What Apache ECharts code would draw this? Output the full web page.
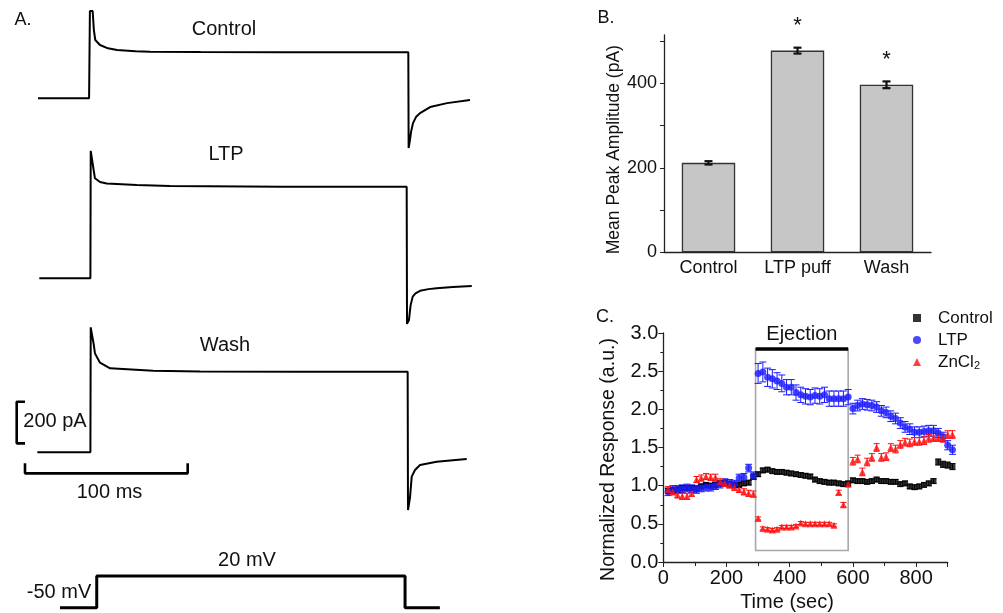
<!DOCTYPE html>
<html><head><meta charset="utf-8">
<script src="https://cdn.jsdelivr.net/npm/echarts@6/dist/echarts.min.js"></script>
<style>html,body{margin:0;padding:0;background:#fff}#c{width:1003px;height:613px}</style>
</head><body><div id="c"></div>
<script>
// ---------- Panel A: current traces (ms, pA relative to baseline) ----------
const traceControl = [[0,0],[31.4,0],[31.9,419],[33.6,419],[34.3,330],[35.2,280],[38.1,256],[43,240],[48.6,232],[60,226],[68.8,224],[100,222],[150,221],[200,221],[227.6,221],[227.8,-239],[228.6,-200],[229.3,-160],[230.5,-119],[232.3,-90],[234.8,-71],[241,-42],[251.4,-23],[265.5,-8]];
const traceLTP = [[0.8,0],[32.2,0],[32.4,612],[33.4,612],[34.2,520],[35,480],[38.1,462],[42.2,455],[60.7,448],[81,443],[150,440],[226.6,440],[226.8,-219],[228,-200],[229,-130],[230.3,-88],[232,-72],[234.8,-60],[240,-52],[245,-48],[255,-42],[266.6,-37]];
const traceWash = [[-0.4,0],[32.2,0],[32.4,600],[33.4,600],[34.2,520],[35,475],[38.1,430],[44.3,403],[70.7,392],[99.6,388],[160,387],[227.2,387],[227.4,-277],[228.6,-220],[229.7,-117],[231.7,-85],[234.8,-61],[245,-45],[255,-38],[263.5,-32]];
const voltageStep = [[13.5,-50],[36.1,-50],[36.1,20],[225.6,20],[225.6,-50],[247,-50]];
const scaleBarPA = [[-8,243],[-13.1,243],[-13.1,43],[-8,43]];      // 200 pA
const scaleBarMS = [[-8,-53],[-8,-101],[92,-101],[92,-53]];         // 100 ms

// ---------- Panel B: mean peak amplitude ----------
const barCats = ['Control','LTP puff','Wash'];
const barVals = [212, 478, 397];
const barErr = [4, 7, 8];
const barSig = ['', '*', '*'];
const barTickValues = [0, 100, 200, 300, 400, 500];
const barLabelValues = [0, 200, 400];

// ---------- Panel C: normalized response ----------
const times = [15,30,45,60,75,90,105,120,135,150,165,180,195,210,225,240,255,270,285,300,315,330,345,360,375,390,405,420,435,450,465,480,495,510,525,540,555,570,585,600,615,630,645,660,675,690,705,720,735,750,765,780,795,810,825,840,855,870,885,900,915];
const controlVals = [0.93,0.94,0.95,0.97,0.97,0.97,0.96,0.99,1.01,1.00,1.01,1.03,1.04,1.02,1.01,1.01,1.03,1.04,1.12,
  1.15,1.20,1.21,1.19,1.18,1.18,1.17,1.16,1.15,1.14,1.13,1.12,1.08,1.06,1.05,1.04,1.04,1.03,1.02,1.03,
  1.07,1.06,1.06,1.05,1.06,1.08,1.06,1.06,1.05,1.05,1.02,1.03,0.99,0.98,0.99,1.01,1.03,1.06,1.31,1.28,1.27,1.25];
const controlErr = [0.03,0.03,0.03,0.03,0.03,0.03,0.03,0.03,0.03,0.03,0.03,0.03,0.03,0.03,0.03,0.03,0.03,0.03,0.03,
  0.03,0.03,0.03,0.03,0.03,0.03,0.03,0.03,0.03,0.03,0.03,0.03,0.03,0.03,0.03,0.03,0.03,0.03,0.03,0.03,
  0.03,0.03,0.03,0.03,0.03,0.03,0.03,0.03,0.03,0.03,0.03,0.03,0.03,0.03,0.03,0.03,0.03,0.03,0.04,0.04,0.04,0.04];
const ltpVals = [0.92,0.95,0.95,0.96,0.97,0.96,0.95,0.97,0.98,0.98,1.00,1.02,1.04,1.03,1.02,1.10,1.11,1.23,1.13,
  2.47,2.49,2.42,2.40,2.37,2.34,2.29,2.29,2.22,2.19,2.17,2.16,2.18,2.17,2.19,2.14,2.14,2.14,2.14,2.16,
  2.01,2.05,2.07,2.06,2.05,2.03,1.98,1.96,1.91,1.88,1.82,1.77,1.74,1.70,1.70,1.71,1.72,1.72,1.69,1.64,1.53,1.47];
const ltpErr = [0.05,0.05,0.05,0.05,0.05,0.05,0.05,0.05,0.05,0.05,0.05,0.05,0.05,0.05,0.05,0.05,0.05,0.05,0.05,
  0.13,0.13,0.12,0.12,0.11,0.11,0.10,0.10,0.10,0.10,0.10,0.10,0.10,0.10,0.10,0.10,0.10,0.10,0.10,0.10,
  0.07,0.07,0.07,0.07,0.07,0.07,0.07,0.07,0.07,0.07,0.07,0.07,0.07,0.07,0.07,0.07,0.07,0.07,0.06,0.06,0.06,0.06];
const znVals = [0.95,0.92,0.88,0.86,0.86,0.90,1.08,1.10,1.12,1.11,1.11,1.05,1.03,1.01,0.98,0.95,0.92,0.90,0.89,
  0.57,0.44,0.43,0.42,0.43,0.46,0.46,0.46,0.47,0.51,0.50,0.50,0.50,0.50,0.50,0.50,0.48,0.91,0.75,1.02,
  1.32,1.35,1.18,1.31,1.37,1.50,1.37,1.38,1.50,1.48,1.54,1.57,1.56,1.58,1.58,1.59,1.62,1.63,1.63,1.62,1.67,1.67];
const znErr = [0.04,0.04,0.04,0.04,0.04,0.04,0.04,0.04,0.04,0.04,0.04,0.04,0.04,0.04,0.04,0.04,0.04,0.04,0.04,
  0.02,0.02,0.02,0.02,0.02,0.02,0.02,0.02,0.02,0.02,0.02,0.02,0.02,0.02,0.02,0.02,0.02,0.03,0.03,0.03,
  0.05,0.05,0.05,0.05,0.05,0.05,0.05,0.05,0.05,0.05,0.05,0.05,0.05,0.05,0.05,0.05,0.05,0.05,0.05,0.05,0.05,0.05];
const ejection = {start: 292, end: 585, low: 0.15, high: 2.79};

const FONT = '"Liberation Sans", Arial, sans-serif';
const chart = echarts.init(document.getElementById('c'), null, {renderer: 'canvas'});

function hiddenAxis(grid, min, max) {
  return {type: 'value', gridIndex: grid, min: min, max: max, show: false};
}
function errRenderer(color, hw, lw) {
  return function (params, api) {
    const x = api.value(0), y = api.value(1), e = api.value(2);
    const t = api.coord([x, y + e]), b = api.coord([x, y - e]);
    const st = {stroke: color, lineWidth: lw};
    return {type: 'group', children: [
      {type: 'line', shape: {x1: t[0], y1: t[1], x2: b[0], y2: b[1]}, style: st},
      {type: 'line', shape: {x1: t[0] - hw, y1: t[1], x2: t[0] + hw, y2: t[1]}, style: st},
      {type: 'line', shape: {x1: b[0] - hw, y1: b[1], x2: b[0] + hw, y2: b[1]}, style: st}
    ]};
  };
}
function lineSeries(name, data, xi, lw) {
  return {name: name, type: 'line', xAxisIndex: xi, yAxisIndex: xi, data: data, showSymbol: false,
    symbol: 'none', lineStyle: {color: '#000', width: lw}, silent: true, animation: false, z: 3};
}
function txt(text, x, y, size, align) {
  return {type: 'text', x: x, y: y, style: {text: text, font: size + 'px ' + FONT, fill: '#111',
    align: align || 'center', verticalAlign: 'middle'}};
}

const pxMs = 1.627, pxPA = 0.2083;
const option = {
  animation: false,
  textStyle: {fontFamily: FONT},
  grid: [
    {left: 13.6, width: 285 * pxMs, top: 4.6, height: 750 * pxPA},
    {left: 13.6, width: 285 * pxMs, top: 142.9, height: 950 * pxPA},
    {left: 13.6, width: 285 * pxMs, top: 316.9, height: 950 * pxPA},
    {left: 13.6, width: 285 * pxMs, top: 571.5, height: 90 * 0.453},
    {left: 664, width: 267, top: 35, height: 217.3},
    {left: 663.3, width: 284.4, top: 333, height: 229}
  ],
  xAxis: [
    hiddenAxis(0, -15, 270), hiddenAxis(1, -15, 270), hiddenAxis(2, -15, 270), hiddenAxis(3, -15, 270),
    {type: 'category', gridIndex: 4, data: barCats, boundaryGap: true,
      axisLine: {lineStyle: {color: '#222', width: 1.3}}, axisTick: {show: false},
      axisLabel: {color: '#111', fontSize: 18, margin: 7, fontFamily: FONT}},
    {type: 'value', gridIndex: 5, min: 0, max: 900, interval: 200,
      axisLine: {onZero: false, lineStyle: {color: '#222', width: 1.3}},
      axisTick: {length: 5, lineStyle: {color: '#222'}},
      minorTick: {show: true, splitNumber: 2, length: 4, lineStyle: {color: '#222'}},
      splitLine: {show: false},
      axisLabel: {color: '#111', fontSize: 20, margin: 6, fontFamily: FONT},
      name: 'Time (sec)', nameLocation: 'middle', nameGap: 30,
      nameTextStyle: {color: '#111', fontSize: 20, fontFamily: FONT, padding: [0, 37, 0, 0]}}
  ],
  yAxis: [
    hiddenAxis(0, -300, 450), hiddenAxis(1, -300, 650), hiddenAxis(2, -300, 650), hiddenAxis(3, -60, 30),
    {type: 'value', gridIndex: 4, min: 0, max: 515, interval: 100,
      axisLine: {show: true, lineStyle: {color: '#222', width: 1.3}},
      axisTick: {show: true, length: 4, lineStyle: {color: '#222'}, customValues: barTickValues},
      splitLine: {show: false},
      axisLabel: {color: '#111', fontSize: 18, margin: 7, fontFamily: FONT, customValues: barLabelValues,
        formatter: v => (barLabelValues.indexOf(v) >= 0 ? String(v) : '')},
      name: 'Mean Peak Amplitude (pA)', nameLocation: 'middle', nameGap: 35,
      nameTextStyle: {color: '#111', fontSize: 17.5, fontFamily: FONT, padding: [0, 12, 0, 0]}},
    {type: 'value', gridIndex: 5, min: 0, max: 3, interval: 0.5,
      axisLine: {show: true, onZero: false, lineStyle: {color: '#222', width: 1.3}},
      axisTick: {show: true, length: 5, lineStyle: {color: '#222'}},
      minorTick: {show: true, splitNumber: 2, length: 3, lineStyle: {color: '#222'}},
      splitLine: {show: false},
      axisLabel: {color: '#111', fontSize: 20, margin: 5, fontFamily: FONT, formatter: v => v.toFixed(1)},
      name: 'Normalized Response (a.u.)', nameLocation: 'middle', nameGap: 45,
      nameTextStyle: {color: '#111', fontSize: 19.5, fontFamily: FONT, padding: [0, 24, 0, 0]}}
  ],
  legend: {
    data: ['Control', 'LTP', 'ZnCl2'], orient: 'vertical', left: 908, top: 304,
    itemWidth: 8, itemHeight: 8, itemGap: 4, selectedMode: false,
    textStyle: {fontSize: 17, color: '#111', fontFamily: FONT, lineHeight: 18, padding: [0, 0, 0, 12],
      rich: {n: {fontSize: 17, fontFamily: FONT, color: '#111'}, s: {fontSize: 11, fontFamily: FONT, color: '#111', verticalAlign: 'bottom', padding: [9, 0, 0, 0]}}},
    formatter: name => name === 'ZnCl2' ? '{n|ZnCl}{s|2}' : name
  },
  graphic: [
    txt('A.', 23, 20, 18), txt('B.', 606, 18, 18), txt('C.', 605, 317, 18),
    txt('Control', 224, 29, 20), txt('LTP', 226, 154, 20), txt('Wash', 225, 345, 20),
    txt('200 pA', 55, 421, 20), txt('100 ms', 109.5, 492, 20),
    txt('20 mV', 247, 560, 20), txt('-50 mV', 59, 592, 20)
  ],
  series: [
    lineSeries('traceControl', traceControl, 0, 2),
    lineSeries('traceLTP', traceLTP, 1, 2),
    lineSeries('traceWash', traceWash, 2, 2),
    lineSeries('scalePA', scaleBarPA, 2, 2.6),
    lineSeries('scaleMS', scaleBarMS, 2, 2.6),
    lineSeries('voltage', voltageStep, 3, 3),
    {name: 'Mean peak', type: 'bar', xAxisIndex: 4, yAxisIndex: 4, data: barVals, barWidth: '60%',
      itemStyle: {color: '#c6c6c6', borderColor: '#333', borderWidth: 1.3},
      label: {show: true, position: 'top', distance: 14, fontSize: 22, color: '#111', fontFamily: FONT,
        formatter: p => barSig[p.dataIndex]}},
    {name: 'barErr', type: 'custom', xAxisIndex: 4, yAxisIndex: 4, z: 5,
      data: barVals.map((v, i) => [i, v, barErr[i]]), renderItem: errRenderer('#111', 4, 2.2)},
    {name: 'ctrlErr', type: 'custom', xAxisIndex: 5, yAxisIndex: 5, z: 3, clip: false,
      data: times.map((t, i) => [t, controlVals[i], controlErr[i]]), renderItem: errRenderer('#000', 3, 1)},
    {name: 'ltpErr', type: 'custom', xAxisIndex: 5, yAxisIndex: 5, z: 3, clip: false,
      data: times.map((t, i) => [t, ltpVals[i], ltpErr[i]]), renderItem: errRenderer('#1a1aff', 3.5, 1)},
    {name: 'znErr', type: 'custom', xAxisIndex: 5, yAxisIndex: 5, z: 3, clip: false,
      data: times.map((t, i) => [t, znVals[i], znErr[i]]), renderItem: errRenderer('#ff1010', 3, 1)},
    {name: 'Control', type: 'scatter', xAxisIndex: 5, yAxisIndex: 5, z: 4, clip: false,
      symbol: 'rect', symbolSize: 6, itemStyle: {color: '#000'},
      data: times.map((t, i) => [t, controlVals[i]]),
      markArea: {silent: true, itemStyle: {color: 'rgba(0,0,0,0)', borderColor: '#a8a8a8', borderWidth: 1.6},
        data: [[{xAxis: ejection.start, yAxis: ejection.low}, {xAxis: ejection.end, yAxis: ejection.high}]]},
      markLine: {silent: true, symbol: 'none', lineStyle: {color: '#000', width: 3.5, type: 'solid'},
        label: {show: true, position: 'middle', formatter: 'Ejection', fontSize: 20, color: '#111', fontFamily: FONT, distance: 5},
        data: [[{coord: [ejection.start, ejection.high]}, {coord: [ejection.end, ejection.high]}]]}},
    {name: 'LTP', type: 'scatter', xAxisIndex: 5, yAxisIndex: 5, z: 4, clip: false,
      symbol: 'circle', symbolSize: 7, itemStyle: {color: '#1a1aff'},
      data: times.map((t, i) => [t, ltpVals[i]])},
    {name: 'ZnCl2', type: 'scatter', xAxisIndex: 5, yAxisIndex: 5, z: 4, clip: false,
      symbol: 'triangle', symbolSize: 7, itemStyle: {color: '#ff1010'},
      data: times.map((t, i) => [t, znVals[i]])}
  ]
};
chart.setOption(option);
</script>
</body></html>
